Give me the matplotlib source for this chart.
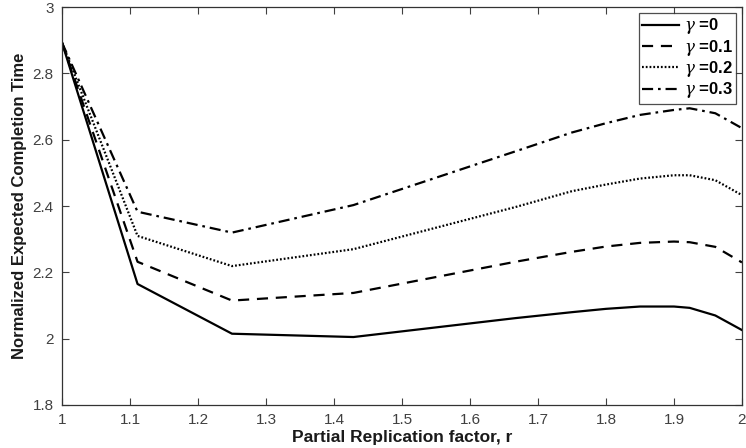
import matplotlib
matplotlib.use("Agg")
import matplotlib.pyplot as plt

plt.rcParams['font.family'] = ['Liberation Sans', 'DejaVu Sans']
plt.rcParams['mathtext.fontset'] = 'custom'
plt.rcParams['mathtext.it'] = 'DejaVu Serif:italic'

# Partial replication factor r
r = [1.0, 1.1111, 1.25, 1.4286, 1.6667, 1.75, 1.8, 1.85, 1.9, 1.9231, 1.9608, 2.0]

# Normalized expected completion time for each gamma
t_g0 = [2.893, 2.165, 2.015, 2.005, 2.062, 2.080, 2.090, 2.097, 2.097, 2.093, 2.070, 2.026]
t_g1 = [2.893, 2.232, 2.115, 2.138, 2.232, 2.262, 2.278, 2.289, 2.293, 2.291, 2.277, 2.230]
t_g2 = [2.893, 2.310, 2.219, 2.270, 2.397, 2.445, 2.465, 2.483, 2.493, 2.493, 2.478, 2.433]
t_g3 = [2.893, 2.383, 2.320, 2.403, 2.565, 2.622, 2.650, 2.675, 2.690, 2.695, 2.680, 2.635]

labels = [r"$\gamma$ =0", r"$\gamma$ =0.1", r"$\gamma$ =0.2", r"$\gamma$ =0.3"]
xticks = [1, 1.1, 1.2, 1.3, 1.4, 1.5, 1.6, 1.7, 1.8, 1.9, 2]
xticklabels = ["1", "1.1", "1.2", "1.3", "1.4", "1.5", "1.6", "1.7", "1.8", "1.9", "2"]
yticks = [1.8, 2.0, 2.2, 2.4, 2.6, 2.8, 3.0]
yticklabels = ["1.8", "2", "2.2", "2.4", "2.6", "2.8", "3"]

fig = plt.figure(figsize=(7.46, 4.48), dpi=100)
ax = fig.add_axes([0.0831, 0.096, 0.9115, 0.888])

lw = 1.6
ax.plot(r, t_g0, color='black', lw=lw, linestyle='-', label=labels[0])
ax.plot(r, t_g1, color='black', lw=lw, linestyle=(0, (5, 3.5)), label=labels[1])
ax.plot(r, t_g2, color='black', lw=lw, linestyle=(0, (0.8, 0.9)), label=labels[2])
ax.plot(r, t_g3, color='black', lw=lw, linestyle=(0, (5, 2.2, 1.2, 2.2)), label=labels[3])

ax.set_xlim(1, 2)
ax.set_ylim(1.8, 3)
ax.set_xticks(xticks)
ax.set_xticklabels(xticklabels)
ax.set_yticks(yticks)
ax.set_yticklabels(yticklabels)

tick_col = '#404040'
ax.tick_params(direction='in', length=5, width=0.8, colors=tick_col,
               labelsize=11, top=True, right=True, pad=6)
for s in ax.spines.values():
    s.set_color('#333333')
    s.set_linewidth(0.9)

ax.set_xlabel("Partial Replication factor, r", fontsize=12.5, fontweight='bold',
              color='#1a1a1a', labelpad=2)
ax.set_ylabel("Normalized Expected Completion Time", fontsize=12, fontweight='bold',
              color='#1a1a1a', labelpad=4)

leg = ax.legend(loc='upper right', frameon=True, fancybox=False,
                edgecolor='#222222', handlelength=2.2, handletextpad=0.3,
                borderpad=0.2, labelspacing=0.08, borderaxespad=0.35,
                prop={'weight': 'bold', 'size': 12})
leg.get_frame().set_linewidth(0.9)

fig.savefig("out.png", dpi=100, facecolor='white')
